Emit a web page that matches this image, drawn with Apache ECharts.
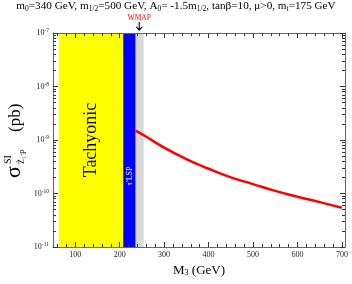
<!DOCTYPE html>
<html><head><meta charset="utf-8">
<script src="https://cdn.jsdelivr.net/npm/echarts@6/dist/echarts.min.js"></script>
<style>html,body{margin:0;padding:0;background:#fff}#c{width:352px;height:284px}</style>
</head><body><div id="c"></div>
<script>
// ---- data ----
const m3 = [236, 260, 300, 350, 400, 450, 500, 550, 600, 650, 700];
const sigmaSI = [1.5e-9, 1.15e-9, 7.2e-10, 4.4e-10, 2.9e-10, 2.0e-10, 1.5e-10, 1.12e-10, 8.7e-11, 6.9e-11, 5.4e-11];
const tachyonicBand = [63, 208];
const stauLSPBand = [208, 236];
const wmapBand = [236, 254];
const wmapArrowX = 244;
const xRange = [50, 707];
const yRange = [1e-11, 1e-7];
const xTickValues = [100, 200, 300, 400, 500, 600, 700];
const xMinorStep = 20;
const yDecadeExps = [-11, -10, -9, -8, -7];
const yMinorMultipliers = [2, 3, 4, 5, 6, 7, 8, 9];

// ---- derived tick helpers ----
const xMinorTicks = [];
for (let v = 60; v < 700; v += xMinorStep) if (v % 100 !== 0) xMinorTicks.push(v);
const yMinorExp = [];
yDecadeExps.slice(0, -1).forEach(d => yMinorMultipliers.forEach(k => yMinorExp.push(d + Math.log10(k))));

const SERIF = 'Liberation Serif';
const axisLineStyle = { color: '#666', width: 1 };
const tickColor = '#333';

const chart = echarts.init(document.getElementById('c'), null, { renderer: 'canvas' });
const gridBox = { left: 53, right: 7, top: 33, bottom: 37, containLabel: false, outerBoundsMode: 'none' };

function majorX(pos, withLabels) {
  return {
    type: 'value', gridIndex: 0, position: pos, min: xRange[0], max: xRange[1], z: 10,
    axisLine: { show: true, onZero: false, lineStyle: axisLineStyle },
    axisTick: { show: true, inside: true, length: 5, customValues: xTickValues, lineStyle: { color: tickColor, width: 1 } },
    axisLabel: withLabels ? { show: true, customValues: xTickValues, fontFamily: SERIF, fontSize: 8, color: '#222', margin: 4 } : { show: false },
    splitLine: { show: false },
    name: withLabels ? 'M{s|3} (GeV)' : '',
    nameLocation: 'middle', nameGap: 13,
    nameTextStyle: { fontFamily: SERIF, fontSize: 13, color: '#000',
      rich: { s: { fontFamily: SERIF, fontSize: 8, verticalAlign: 'bottom', padding: [6, 0, 0, 0] } } }
  };
}
function minorX(pos) {
  return {
    type: 'value', gridIndex: 1, position: pos, min: xRange[0], max: xRange[1], z: 10,
    axisLine: { show: false, onZero: false },
    axisTick: { show: true, inside: true, length: 3, customValues: xMinorTicks, lineStyle: { color: tickColor, width: 1 } },
    axisLabel: { show: false }, splitLine: { show: false }
  };
}
function majorY(pos, withLabels) {
  return {
    type: 'log', logBase: 10, gridIndex: 0, position: pos, min: yRange[0], max: yRange[1], z: 10,
    axisLine: { show: true, onZero: false, lineStyle: axisLineStyle },
    axisTick: { show: true, inside: true, length: 5, lineStyle: { color: tickColor, width: 1 } },
    axisLabel: withLabels ? {
      show: true, margin: 4, color: '#222',
      formatter: v => '{b|10}{e|' + Math.round(Math.log10(v)) + '}',
      rich: {
        b: { fontFamily: SERIF, fontSize: 8, color: '#222', lineHeight: 10 },
        e: { fontFamily: SERIF, fontSize: 5.5, color: '#222', verticalAlign: 'top', lineHeight: 10 }
      }
    } : { show: false },
    splitLine: { show: false }
  };
}
function minorY(pos) {
  return {
    type: 'value', gridIndex: 1, position: pos, min: yDecadeExps[0], max: yDecadeExps[yDecadeExps.length - 1], z: 10,
    axisLine: { show: false, onZero: false },
    axisTick: { show: true, inside: true, length: 3, customValues: yMinorExp, lineStyle: { color: tickColor, width: 1 } },
    axisLabel: { show: false }, splitLine: { show: false }
  };
}

const option = {
  backgroundColor: '#fff',
  animation: false,
  title: {
    text: 'm{s|0}=340 GeV, m{s|1/2}=500 GeV, A{s|0}= -1.5m{s|1/2}, tanβ=10, μ>0, m{s|t}=175 GeV',
    left: 'center', top: 0, padding: [0, 0, 0, 14],
    textStyle: {
      fontFamily: SERIF, fontSize: 11.2, fontWeight: 'normal', color: '#000', lineHeight: 13,
      rich: {
        s: { fontFamily: SERIF, fontSize: 7.5, color: '#000', verticalAlign: 'bottom', lineHeight: 13 }
      }
    }
  },
  grid: [Object.assign({}, gridBox), Object.assign({}, gridBox)],
  xAxis: [majorX('bottom', true), majorX('top', false), minorX('bottom'), minorX('top')],
  yAxis: [majorY('left', true), majorY('right', false), minorY('left'), minorY('right')],
  graphic: [{
    type: 'group', x: 17, y: 141, rotation: Math.PI / 2, silent: true,
    children: [
      { type: 'text', x: -37, y: -2.4, style: { text: 'σ', font: '22px "Liberation Serif"', fill: '#000', textAlign: 'left', textVerticalAlign: 'middle' } },
      { type: 'text', x: -23, y: -9, style: { text: 'SI', font: '10px "Liberation Serif"', fill: '#000', textAlign: 'left', textVerticalAlign: 'middle' } },
      { type: 'text', x: -23, y: 4.5, style: { text: 'Z̃₁·p', font: '8px "Liberation Serif"', fill: '#000', textAlign: 'left', textVerticalAlign: 'middle' } },
      { type: 'text', x: 9, y: -1, style: { text: '(pb)', font: '17px "Liberation Serif"', fill: '#000', textAlign: 'left', textVerticalAlign: 'middle' } }
    ]
  }],
  series: [{
    type: 'line', xAxisIndex: 0, yAxisIndex: 0,
    data: m3.map((x, i) => [x, sigmaSI[i]]),
    smooth: true, showSymbol: false, symbol: 'none',
    lineStyle: { color: '#ff0000', width: 2.5 },
    z: 5,
    markArea: {
      silent: true,
      data: [
        [{ xAxis: tachyonicBand[0], itemStyle: { color: '#ffff00' },
           label: { show: true, position: 'inside', rotate: 90, formatter: 'Tachyonic',
                    fontFamily: SERIF, fontSize: 18, color: '#000' } },
         { xAxis: tachyonicBand[1] }],
        [{ xAxis: stauLSPBand[0], itemStyle: { color: '#0000ff' },
           label: { show: true, position: 'inside', rotate: 90, formatter: 'τ̃ LSP',
                    fontFamily: SERIF, fontSize: 8, color: '#fff', offset: [-36, 0] } },
         { xAxis: stauLSPBand[1] }],
        [{ xAxis: wmapBand[0], itemStyle: { color: '#d9d9d9' } }, { xAxis: wmapBand[1] }]
      ]
    },
    markPoint: {
      silent: true,
      data: [{ coord: [wmapArrowX, yRange[1]] }],
      symbol: 'path://M3.4,0 H4.6 V8 L7.2,5.4 L8,6.2 L4,11 L0,6.2 L0.8,5.4 L3.4,8 Z',
      symbolSize: [7, 9], symbolOffset: [0, -6.5], symbolKeepAspect: false,
      itemStyle: { color: '#000' },
      label: { show: true, position: 'top', distance: 0, formatter: 'WMAP',
               fontFamily: SERIF, fontSize: 7.5, color: '#ff0000' }
    }
  }]
};
chart.setOption(option);
</script></body></html>
